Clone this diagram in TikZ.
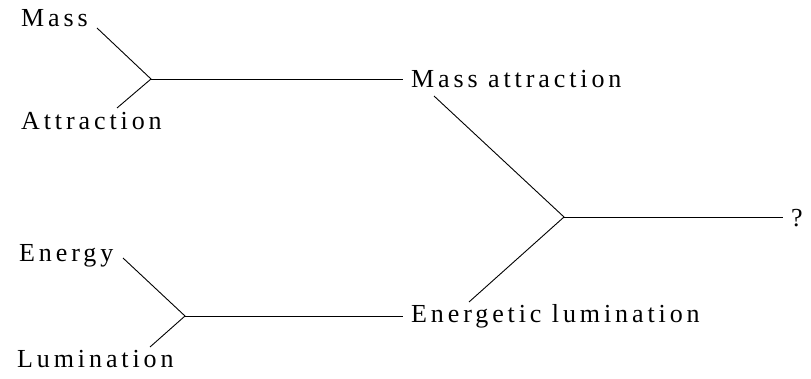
\documentclass[tikz,border=0pt]{standalone}
\usepackage{fontspec}
\setmainfont{Liberation Serif}[LetterSpace=15]
\begin{document}
\begin{tikzpicture}[x=1pt,y=-1pt,
  lbl/.style={anchor=base west,inner sep=0pt,font=\fontsize{26}{30}\selectfont},
  conn/.style={line width=0.9pt}]
\useasboundingbox (0,0) rectangle (811,379);
% labels
\node[lbl] (mass) at (21,27) {Mass};
\node[lbl] (attr) at (21,130) {Attraction};
\node[lbl] (massattr) at (411,88) {Mass attraction};
\node[lbl] (energy) at (19,262) {Energy};
\node[lbl] (lum) at (17,367) {Lumination};
\node[lbl] (enlum) at (411,322) {Energetic lumination};
\node[lbl] (q) at (791,227) {?};
% junctions and connector ends
\coordinate (j1) at (151,79);
\coordinate (j2) at (185,316);
\coordinate (j3) at (564,217);
\coordinate (massend) at (97,28);
\coordinate (attrend) at (117,108);
\coordinate (maend) at (403,79);
\coordinate (energyend) at (123,258);
\coordinate (lumend) at (150,347);
\coordinate (elend) at (403,316);
\coordinate (matop) at (434,96);
\coordinate (elbot) at (469,302);
\coordinate (qend) at (783,217);
% connectors
\draw[conn] (massend) -- (j1) -- (attrend);
\draw[conn] (j1) -- (maend);
\draw[conn] (energyend) -- (j2) -- (lumend);
\draw[conn] (j2) -- (elend);
\draw[conn] (matop) -- (j3) -- (elbot);
\draw[conn] (j3) -- (qend);
\end{tikzpicture}
\end{document}
